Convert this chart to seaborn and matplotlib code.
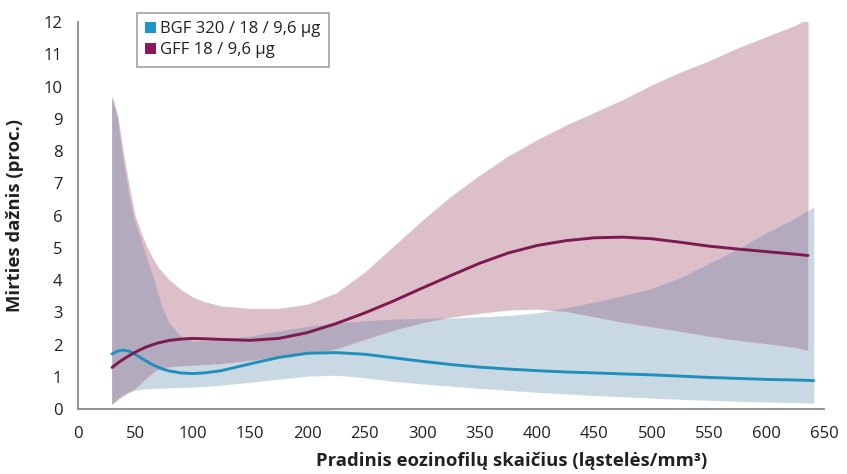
import numpy as np
import pandas as pd
import matplotlib
matplotlib.use("Agg")
import matplotlib.pyplot as plt
from matplotlib.patches import Patch
import seaborn as sns

# Baseline eosinophil count (cells/mm3)
x_gff = [30, 35, 40, 45, 50, 55, 60, 65, 70, 75, 80, 90, 100, 110, 125, 150, 175, 200,
         225, 250, 275, 300, 325, 350, 375, 400, 425, 450, 475, 500, 525, 550, 575,
         600, 625, 636]
x_bgf = x_gff + [641]

# BGF 320 / 18 / 9,6 µg : mortality rate (%) and its confidence band
bgf_mean = [1.71, 1.80, 1.83, 1.79, 1.70, 1.59, 1.48, 1.38, 1.30, 1.23, 1.18, 1.12, 1.10,
            1.12, 1.19, 1.40, 1.60, 1.73, 1.75, 1.70, 1.59, 1.48, 1.38, 1.30, 1.24, 1.19,
            1.15, 1.12, 1.09, 1.06, 1.02, 0.98, 0.95, 0.92, 0.90, 0.89, 0.88]
bgf_upper = [9.65, 9.00, 7.70, 6.60, 5.80, 5.30, 4.70, 4.20, 3.60, 3.05, 2.65, 2.25, 2.10,
             2.10, 2.15, 2.25, 2.40, 2.55, 2.65, 2.72, 2.77, 2.80, 2.82, 2.86, 2.90, 2.98,
             3.12, 3.30, 3.50, 3.72, 4.05, 4.50, 4.95, 5.45, 5.90, 6.15, 6.27]
bgf_lower = [0.15, 0.30, 0.42, 0.52, 0.58, 0.61, 0.63, 0.64, 0.65, 0.65, 0.66, 0.67, 0.68,
             0.70, 0.74, 0.83, 0.93, 1.02, 1.05, 0.97, 0.86, 0.78, 0.71, 0.64, 0.58, 0.52,
             0.47, 0.42, 0.38, 0.34, 0.30, 0.27, 0.24, 0.22, 0.20, 0.19, 0.18]

# GFF 18 / 9,6 µg : mortality rate (%) and its confidence band
gff_mean = [1.29, 1.43, 1.55, 1.66, 1.76, 1.85, 1.93, 1.99, 2.05, 2.09, 2.13, 2.17, 2.19,
            2.18, 2.16, 2.13, 2.19, 2.37, 2.65, 2.98, 3.35, 3.75, 4.14, 4.52, 4.84, 5.07,
            5.22, 5.31, 5.33, 5.28, 5.17, 5.05, 4.96, 4.88, 4.80, 4.76]
gff_upper = [9.70, 9.10, 7.90, 6.90, 6.00, 5.50, 5.05, 4.70, 4.40, 4.20, 4.00, 3.70, 3.48,
             3.33, 3.20, 3.12, 3.12, 3.25, 3.60, 4.25, 5.05, 5.85, 6.60, 7.25, 7.85, 8.35,
             8.80, 9.20, 9.60, 10.05, 10.45, 10.80, 11.20, 11.55, 11.90, 12.10]
gff_lower = [0.15, 0.30, 0.43, 0.53, 0.62, 0.78, 0.95, 1.10, 1.22, 1.27, 1.30, 1.33, 1.35,
             1.37, 1.40, 1.50, 1.60, 1.70, 1.85, 2.15, 2.43, 2.66, 2.85, 2.97, 3.07, 3.10,
             3.02, 2.85, 2.68, 2.54, 2.40, 2.25, 2.12, 2.02, 1.90, 1.82]

labels = ["BGF 320 / 18 / 9,6 µg", "GFF 18 / 9,6 µg"]
x_ticks = list(range(0, 651, 50))
y_ticks = list(range(0, 13))

line_colors = {labels[0]: "#1f8fbb", labels[1]: "#7d1a50"}
legend_colors = ["#1e95c8", "#8a1a5c"]
band_blue = "#c9d9e3"
band_pink = "#dcbfc8"
band_both = "#b3abbd"
text_color = "#231f20"
axis_color = "#8a8a8a"

sns.set_style("white")
plt.rcParams["font.family"] = ["Open Sans", "DejaVu Sans"]

fig = plt.figure(figsize=(8.47, 4.74), dpi=100)
ax = fig.add_axes([0.0917, 0.137, 0.8813, 0.8166])

# confidence bands, with their common part drawn darker
ax.fill_between(x_bgf, bgf_lower, bgf_upper, color=band_blue, lw=0, zorder=1)
ax.fill_between(x_gff, gff_lower, gff_upper, color=band_pink, lw=0, zorder=2)
n = len(x_gff)
lo = np.maximum(np.array(bgf_lower[:n]), np.array(gff_lower))
hi = np.minimum(np.array(bgf_upper[:n]), np.array(gff_upper))
ax.fill_between(x_gff, lo, hi, where=hi > lo, interpolate=True,
                color=band_both, lw=0, zorder=3)

# mean curves
df = pd.concat([
    pd.DataFrame({"x": x_bgf, "y": bgf_mean, "grupe": labels[0]}),
    pd.DataFrame({"x": x_gff, "y": gff_mean, "grupe": labels[1]}),
])
sns.lineplot(data=df, x="x", y="y", hue="grupe", palette=line_colors,
             linewidth=2.1, ax=ax, legend=False, zorder=5, sort=False)

ax.set_xlim(0, 650)
ax.set_ylim(0, 12)
ax.set_xticks(x_ticks)
ax.set_yticks(y_ticks)
ax.tick_params(axis="both", direction="out", length=5, width=1.2,
               color=axis_color, labelsize=12, labelcolor=text_color)
ax.tick_params(axis="x", pad=7)
ax.tick_params(axis="y", pad=6)
for side in ["top", "right"]:
    ax.spines[side].set_visible(False)
for side in ["left", "bottom"]:
    ax.spines[side].set_color(axis_color)
    ax.spines[side].set_linewidth(1.3)

ax.set_xlabel("Pradinis eozinofilų skaičius (ląstelės/mm³)", fontsize=13.3,
              fontweight="bold", color=text_color)
ax.xaxis.set_label_coords(0.582, -0.112)
ax.set_ylabel("Mirties dažnis (proc.)", fontsize=13.3, fontweight="bold",
              color=text_color)
ax.yaxis.set_label_coords(-0.072, 0.5)

handles = [Patch(facecolor=c, edgecolor="none") for c in legend_colors]
leg = ax.legend(handles, labels, loc="upper left",
                bbox_to_anchor=(137 / 847, 1 - 13 / 474),
                bbox_transform=fig.transFigure, fontsize=12,
                frameon=True, fancybox=False, handlelength=0.65,
                handleheight=0.65, handletextpad=0.25, borderpad=0.5,
                labelspacing=0.3, borderaxespad=0)
leg.get_frame().set_edgecolor(axis_color)
leg.get_frame().set_linewidth(1.2)
for t in leg.get_texts():
    t.set_color(text_color)

fig.savefig("out.png", dpi=100)
